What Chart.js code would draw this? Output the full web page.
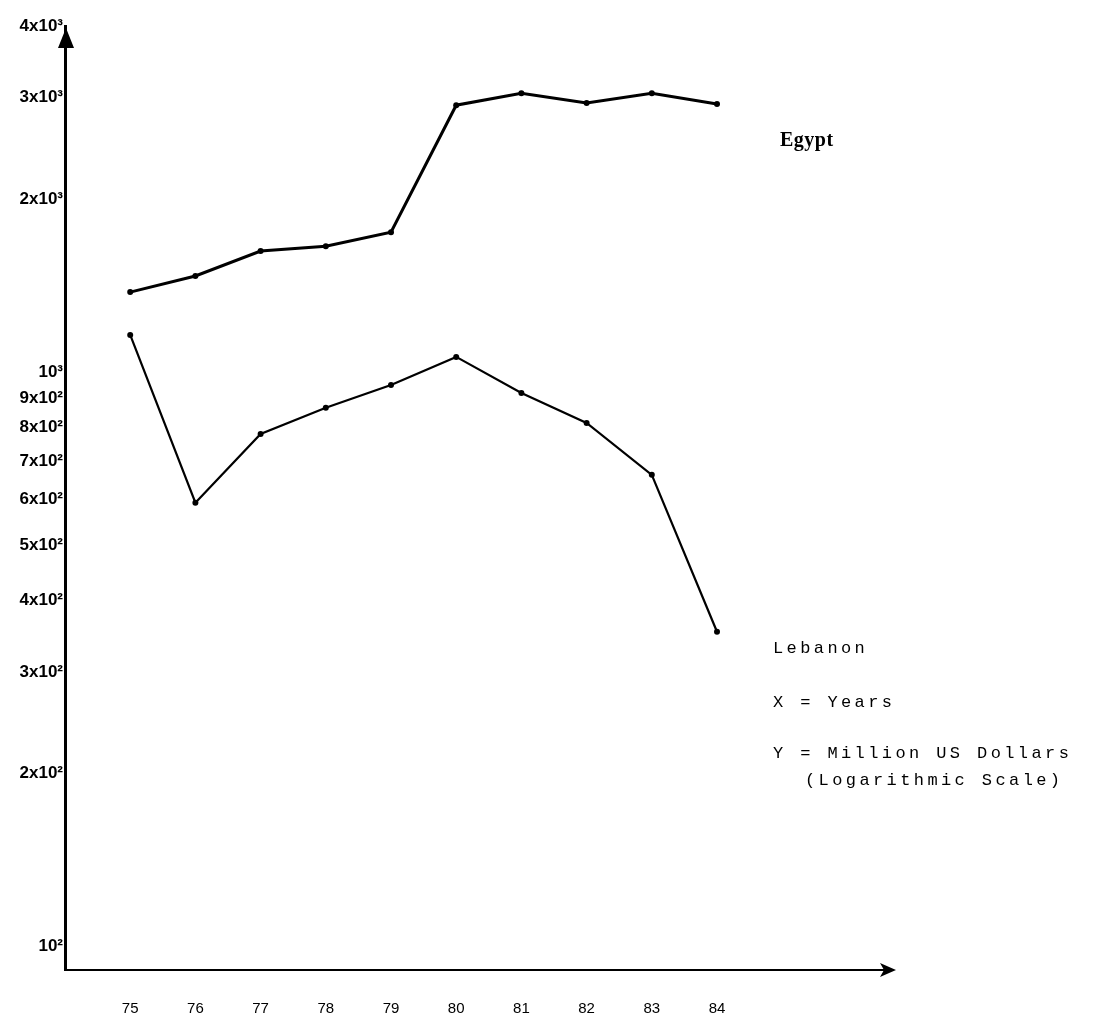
<!DOCTYPE html>
<html>
<head>
<meta charset="utf-8">
<script src="https://cdn.jsdelivr.net/npm/chart.js@4/dist/chart.umd.min.js"></script>
<style>
  body { margin: 0; background: #fff; }
  #wrap { width: 1095px; height: 1020px; }
</style>
</head>
<body>
<div id="wrap"><canvas id="chart" width="1095" height="1020"></canvas></div>
<script>
// values (million US dollars, log scale)
const years = [75, 76, 77, 78, 79, 80, 81, 82, 83, 84];
const egypt = [1377, 1469, 1623, 1655, 1751, 2912, 3055, 2938, 3055, 2925];
const lebanon = [1160, 592, 780, 866, 949, 1062, 919, 815, 662, 353];

const yTickValues = [100, 200, 300, 400, 500, 600, 700, 800, 900, 1000, 2000, 3000, 4000];
const yTickLabels = ['10²', '2x10²', '3x10²', '4x10²', '5x10²', '6x10²', '7x10²', '8x10²', '9x10²', '10³', '2x10³', '3x10³', '4x10³'];

const notes = [
  { text: 'Egypt', x: 780, y: 146, bold: true },
  { text: 'Lebanon', x: 773, y: 653 },
  { text: 'X = Years', x: 773, y: 707 },
  { text: 'Y = Million US Dollars', x: 773, y: 758 },
  { text: '(Logarithmic Scale)', x: 805, y: 785 }
];

const toPoints = (vals) => years.map((yr, i) => ({ x: yr, y: vals[i] }));

const paperPlugin = {
  id: 'paper',
  beforeDraw(chart) {
    const ctx = chart.ctx;
    ctx.save();
    ctx.fillStyle = '#fff';
    ctx.fillRect(0, 0, chart.width, chart.height);
    ctx.restore();
  },
  afterDraw(chart) {
    const ctx = chart.ctx;
    const a = chart.chartArea;
    ctx.save();
    ctx.fillStyle = '#000';
    // arrow on top of the y axis
    ctx.beginPath();
    ctx.moveTo(a.left + 1, a.top + 2);
    ctx.lineTo(a.left - 7, a.top + 22);
    ctx.lineTo(a.left + 9, a.top + 22);
    ctx.closePath();
    ctx.fill();
    // arrow at the end of the x axis
    ctx.beginPath();
    ctx.moveTo(a.right + 16, a.bottom);
    ctx.lineTo(a.right, a.bottom - 7);
    ctx.lineTo(a.right + 4, a.bottom);
    ctx.lineTo(a.right, a.bottom + 7);
    ctx.closePath();
    ctx.fill();
    ctx.fillRect(a.right - 2, a.bottom - 1, 6, 2);

    // side notes
    ctx.textBaseline = 'alphabetic';
    notes.forEach(n => {
      if (n.bold) {
        ctx.font = 'bold 20px "Liberation Serif"';
        ctx.letterSpacing = '0.5px';
      } else {
        ctx.font = '17px "Liberation Mono"';
        ctx.letterSpacing = '3.4px';
      }
      ctx.fillText(n.text, n.x, n.y);
    });
    ctx.restore();
  }
};

new Chart(document.getElementById('chart'), {
  type: 'line',
  data: {
    datasets: [
      {
        label: 'Egypt',
        data: toPoints(egypt),
        borderColor: '#000',
        backgroundColor: '#000',
        borderWidth: 3,
        pointRadius: 3,
        pointBorderWidth: 0,
        tension: 0
      },
      {
        label: 'Lebanon',
        data: toPoints(lebanon),
        borderColor: '#000',
        backgroundColor: '#000',
        borderWidth: 2.2,
        pointRadius: 3,
        pointBorderWidth: 0,
        tension: 0
      }
    ]
  },
  options: {
    responsive: false,
    animation: false,
    layout: { padding: { top: 26, right: 215, left: 0, bottom: 0 } },
    plugins: {
      legend: { display: false },
      tooltip: { enabled: false }
    },
    scales: {
      x: {
        type: 'linear',
        min: 74,
        max: 86.5,
        afterBuildTicks: (scale) => { scale.ticks = years.map(v => ({ value: v })); },
        afterFit: (scale) => { scale.height = 50; },
        grid: { display: false, drawTicks: false },
        border: { display: true, color: '#000', width: 2 },
        ticks: {
          color: '#000',
          font: { family: 'Liberation Sans', size: 15 },
          padding: 30,
          maxRotation: 0,
          callback: (v) => String(v)
        }
      },
      y: {
        type: 'logarithmic',
        min: 91,
        max: 4000,
        afterBuildTicks: (scale) => { scale.ticks = yTickValues.map(v => ({ value: v })); },
        afterFit: (scale) => { scale.width = 65; },
        grid: { display: false, drawTicks: false },
        border: { display: true, color: '#000', width: 3 },
        ticks: {
          color: '#000',
          font: { family: 'Liberation Sans', size: 17, weight: 'bold' },
          padding: 2,
          autoSkip: false,
          callback: (v) => yTickLabels[yTickValues.indexOf(v)]
        }
      }
    }
  },
  plugins: [paperPlugin]
});
</script>
</body>
</html>
